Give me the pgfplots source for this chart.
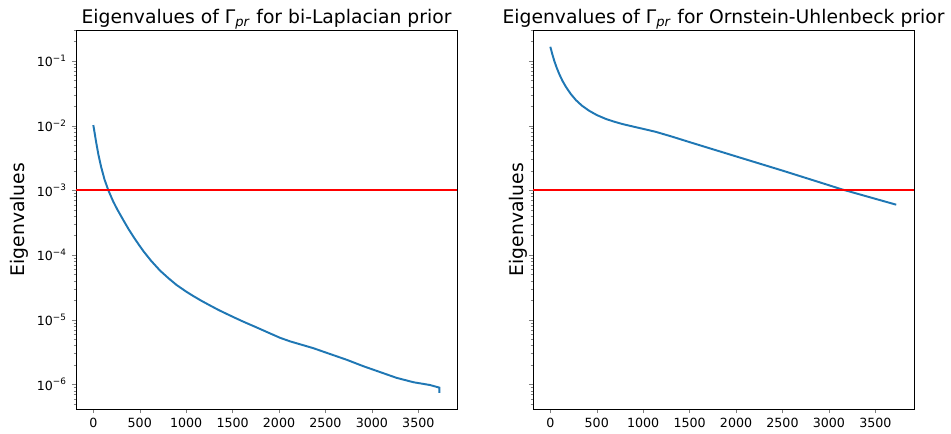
\documentclass[border=0pt]{standalone}
\usepackage{pgfplots}
\pgfplotsset{compat=1.18}
\usepackage{fontspec}
\setmainfont{DejaVu Sans}
\definecolor{tabblue}{HTML}{1F77B4}
\pgfplotstableread{
x y
0 1.02e-2
15 7.6e-3
30 5.6e-3
55 3.55e-3
83 2.34e-3
120 1.48e-3
162 1.0e-3
215 6.68e-4
260 5.01e-4
323 3.47e-4
380 2.51e-4
431 1.93e-4
485 1.48e-4
539 1.15e-4
620 8.22e-5
718 5.75e-5
810 4.37e-5
898 3.43e-5
1000 2.72e-5
1077 2.32e-5
1167 1.95e-5
1257 1.66e-5
1350 1.41e-5
1436 1.23e-5
1525 1.07e-5
1615 9.33e-6
1759 7.59e-6
1900 6.17e-6
2011 5.25e-6
2120 4.62e-6
2226 4.17e-6
2369 3.63e-6
2549 2.95e-6
2729 2.40e-6
2908 1.91e-6
3088 1.55e-6
3267 1.26e-6
3447 1.08e-6
3626 9.77e-7
3726 8.91e-7
3727 7.4e-7
}\bilap
\pgfplotstableread{
x y
0 0.166
20 0.129
43 0.100
70 0.0776
97 0.0624
130 0.0495
168 0.0398
220 0.0309
276 0.0248
340 0.0204
418 0.0170
500 0.0146
598 0.0127
690 0.0115
776 0.0106
880 0.00977
955 0.00923
1134 0.00804
1312 0.00676
1524 0.00543
2000 0.00335
2500 0.00202
3000 0.00120
3135 0.00104
3500 7.4e-4
3725 6.0e-4
}\ou
\def\minorlist{5e-7,6e-7,7e-7,8e-7,9e-7,2e-6,3e-6,4e-6,5e-6,6e-6,7e-6,8e-6,9e-6,2e-5,3e-5,4e-5,5e-5,6e-5,7e-5,8e-5,9e-5,2e-4,3e-4,4e-4,5e-4,6e-4,7e-4,8e-4,9e-4,2e-3,3e-3,4e-3,5e-3,6e-3,7e-3,8e-3,9e-3,2e-2,3e-2,4e-2,5e-2,6e-2,7e-2,8e-2,9e-2,2e-1,3e-1}
\begin{document}
\begin{tikzpicture}
\path[use as bounding box] (0pt,0pt) rectangle (684.7pt,311.8pt);
\begin{axis}[
  at={(54.72pt,17.28pt)}, anchor=south west,
  scale only axis, width=274.3pt, height=272.9pt,
  xmin=-186.5, xmax=3916.5, ymode=log, ymin=4.15e-7, ymax=0.301,
  xtick={0,500,1000,1500,2000,2500,3000,3500},
  ytick={1e-6,1e-5,1e-4,1e-3,1e-2,1e-1},
  minor ytick/.expanded={\minorlist},
  tick align=outside, xtick pos=bottom, ytick pos=left,
  major tick length=3pt, minor tick length=1.8pt,
  line width=0.7pt,
  tick label style={font=\fontsize{9.1}{11}\selectfont},
  xticklabel style={/pgf/number format/assume math mode=true, /pgf/number format/1000 sep={}},
  every axis title shift=0pt,
  title style={font=\fontsize{13.5}{16}\selectfont, at={(0.5,1)}, anchor=base, yshift=5pt},
  ylabel style={font=\fontsize{13.5}{16}\selectfont, at={(axis description cs:-0.134,0.5)}, rotate=0, anchor=base},
  ylabel={Eigenvalues},
  title={Eigenvalues of Γ\textsubscript{\textit{pr}} for bi-Laplacian prior},
  yticklabels={10\textsuperscript{−6},10\textsuperscript{−5},10\textsuperscript{−4},10\textsuperscript{−3},10\textsuperscript{−2},10\textsuperscript{−1}},
 ]
 \addplot[tabblue, line width=1.4pt] table[x=x,y=y]{\bilap};
 \addplot[red, line width=1.4pt] coordinates {(-186.5,1e-3) (3916.5,1e-3)};
\end{axis}
\begin{axis}[
  at={(383.76pt,17.28pt)}, anchor=south west,
  scale only axis, width=274.3pt, height=272.9pt,
  xmin=-186.5, xmax=3916.5, ymode=log, ymin=4.15e-7, ymax=0.301,
  xtick={0,500,1000,1500,2000,2500,3000,3500},
  ytick={1e-6,1e-5,1e-4,1e-3,1e-2,1e-1},
  minor ytick/.expanded={\minorlist},
  tick align=outside, xtick pos=bottom, ytick pos=left,
  major tick length=3pt, minor tick length=1.8pt,
  line width=0.7pt,
  tick label style={font=\fontsize{9.1}{11}\selectfont},
  xticklabel style={/pgf/number format/assume math mode=true, /pgf/number format/1000 sep={}},
  every axis title shift=0pt,
  title style={font=\fontsize{13.5}{16}\selectfont, at={(0.5,1)}, anchor=base, yshift=5pt},
  ylabel style={font=\fontsize{13.5}{16}\selectfont, at={(axis description cs:-0.0255,0.5)}, rotate=0, anchor=base},
  ylabel={Eigenvalues},
  title={Eigenvalues of Γ\textsubscript{\textit{pr}} for Ornstein-Uhlenbeck prior},
  yticklabels={},
 ]
 \addplot[tabblue, line width=1.4pt] table[x=x,y=y]{\ou};
 \addplot[red, line width=1.4pt] coordinates {(-186.5,1e-3) (3916.5,1e-3)};
\end{axis}
\end{tikzpicture}
\end{document}
